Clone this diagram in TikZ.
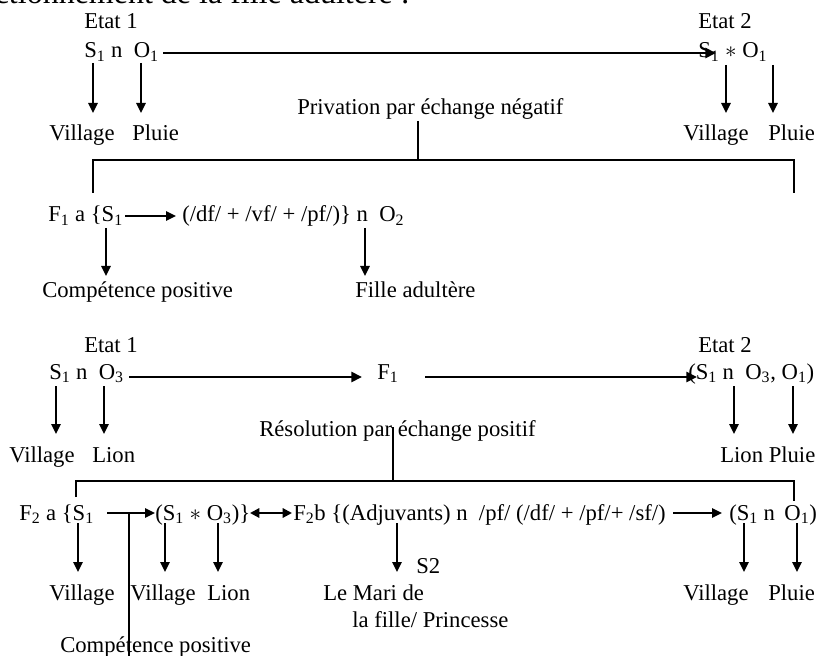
\documentclass[tikz,border=0pt]{standalone}
\usepackage{fontspec}
\setmainfont{Liberation Serif}
\usetikzlibrary{arrows.meta}
\newcommand\sbs[1]{\textsubscript{#1}}
\begin{document}
\begin{tikzpicture}[x=0.75pt,y=-0.75pt,
  txt/.style={inner sep=0pt,anchor=base west,font=\fontsize{17}{20}\selectfont},
  ttl/.style={inner sep=0pt,anchor=base east,font=\fontsize{24}{28}\selectfont},
  varr/.style={line width=1.3pt,-{Triangle[length=7.5pt,width=7pt]}},
  harr/.style={line width=2.1pt,-{Triangle[length=8pt,width=7.5pt]}},
  rarr/.style={line width=1.6pt,-{Triangle[length=7.5pt,width=7pt]}},
  darr/.style={line width=1.6pt,{Triangle[length=7pt,width=7pt]}-{Triangle[length=7pt,width=7pt]}},
  brk/.style={line width=1.1pt}]
\clip (0,0) rectangle (818,656);

% ---------- title (cut off at top) ----------
\node[ttl] (title) at (410,4) {Fonctionnement de la fille adultère :};

% ---------- first scheme ----------
\node[txt] (e1) at (84,29) {Etat 1};
\node[txt] (s1o1) at (84,58) {S\sbs{1} n~ O\sbs{1}};
\node[txt] (e2) at (698,29) {Etat 2};
\node[txt] (s1xo1) at (698,58) {S\sbs{1} $\ast$ O\sbs{1}};
\node[txt] (v1) at (49,141) {Village};
\node[txt] (p1) at (132,141) {Pluie};
\node[txt] (v2) at (683,141) {Village};
\node[txt] (p2) at (768,141) {Pluie};
\node[txt] (priv) at (297,115) {Privation par échange négatif};
\node[txt] (f1a) at (48,222) {F\sbs{1} a \{S\sbs{1}};
\node[txt] (f1b) at (182,222) {(/df/ + /vf/ + /pf/)\} n~ O\sbs{2}};
\node[txt] (comp1) at (42,297) {Compétence positive};
\node[txt] (fille) at (355,297) {Fille adultère};

\coordinate (h1s) at (163,53);  \coordinate (h1e) at (716,53);
\draw[harr] (h1s) -- (h1e);
\coordinate (d1s) at (93,63);   \coordinate (d1e) at (93,113);
\coordinate (d2s) at (141,63);  \coordinate (d2e) at (141,113);
\coordinate (d3s) at (726,65);  \coordinate (d3e) at (726,113);
\coordinate (d4s) at (773,65);  \coordinate (d4e) at (773,113);
\foreach \i in {1,2,3,4} \draw[varr] (d\i s) -- (d\i e);

\coordinate (b1m) at (418,121); \coordinate (b1mj) at (418,160);
\coordinate (b1l) at (93,193);  \coordinate (b1r) at (794,193);
\draw[brk] (b1m) -- (b1mj);
\draw[brk] (b1l) |- (b1mj) -| (b1r);

\coordinate (f1s) at (125,216); \coordinate (f1e) at (176,216);
\draw[rarr] (f1s) -- (f1e);
\coordinate (d5s) at (106,228); \coordinate (d5e) at (106,276);
\coordinate (d6s) at (365,228); \coordinate (d6e) at (365,276);
\draw[varr] (d5s) -- (d5e);
\draw[varr] (d6s) -- (d6e);

% ---------- second scheme ----------
\node[txt] (e1b) at (84,352) {Etat 1};
\node[txt] (s1o3) at (49,379) {S\sbs{1} n~ O\sbs{3}};
\node[txt] (f1) at (377,379) {F\sbs{1}};
\node[txt] (e2b) at (698,352) {Etat 2};
\node[txt] (st2) at (688,379) {(S\sbs{1} n~ O\sbs{3}, O\sbs{1})};
\node[txt] (v3) at (9,462) {Village};
\node[txt] (l3) at (92,462) {Lion};
\node[txt] (res) at (259,436) {Résolution par échange positif};
\node[txt] (lp) at (720,462) {Lion Pluie};

\coordinate (h2s) at (129,377); \coordinate (h2e) at (362,377);
\coordinate (h3s) at (425,377); \coordinate (h3e) at (697,377);
\draw[harr] (h2s) -- (h2e);
\draw[harr] (h3s) -- (h3e);
\coordinate (d7s) at (56,386);   \coordinate (d7e) at (56,434);
\coordinate (d8s) at (104,386);  \coordinate (d8e) at (104,434);
\coordinate (d9s) at (734,386);  \coordinate (d9e) at (734,434);
\coordinate (d10s) at (793,386); \coordinate (d10e) at (793,434);
\foreach \i in {7,8,9,10} \draw[varr] (d\i s) -- (d\i e);

\coordinate (b2m) at (393,427); \coordinate (b2mj) at (393,481);
\coordinate (b2l) at (76,497);  \coordinate (b2r) at (794,501);
\draw[brk] (b2m) -- (b2mj);
\draw[brk] (b2l) |- (b2mj) -| (b2r);

\node[txt] (f2a) at (19,520) {F\sbs{2} a \{S\sbs{1}};
\node[txt] (s1xo3) at (155,520) {(S\sbs{1} $\ast$ O\sbs{3})\}};
\node[txt] (f2b) at (293,520) {F\sbs{2}b \{(Adjuvants) n~ /pf/ (/df/ + /pf/+ /sf/)};
\node[txt] (s1o1b) at (729,520) {(S\sbs{1} n\ \,O\sbs{1})};

\coordinate (r1s) at (107,513); \coordinate (r1e) at (155,513);
\draw[rarr] (r1s) -- (r1e);
\coordinate (r2s) at (250,513); \coordinate (r2e) at (292,513);
\draw[darr] (r2s) -- (r2e);
\coordinate (r3s) at (673,513); \coordinate (r3e) at (722,513);
\draw[rarr] (r3s) -- (r3e);
\coordinate (cps) at (129,513); \coordinate (cpe) at (129,660);
\draw[brk] (cps) -- (cpe);

\coordinate (d11s) at (78,523);  \coordinate (d11e) at (78,572);
\coordinate (d12s) at (165,523); \coordinate (d12e) at (165,572);
\coordinate (d13s) at (218,523); \coordinate (d13e) at (218,572);
\coordinate (d14s) at (397,523); \coordinate (d14e) at (397,572);
\coordinate (d15s) at (744,523); \coordinate (d15e) at (744,572);
\coordinate (d16s) at (797,523); \coordinate (d16e) at (797,572);
\foreach \i in {11,...,16} \draw[varr] (d\i s) -- (d\i e);

\node[txt] (v4) at (49,600) {Village};
\node[txt] (v5) at (130,600) {Village};
\node[txt] (l5) at (207,600) {Lion};
\node[txt] (s2) at (416,573) {S2};
\node[txt] (mari) at (323,600) {Le Mari de};
\node[txt] (princ) at (352,627) {la fille/ Princesse};
\node[txt] (v6) at (683,600) {Village};
\node[txt] (p6) at (768,600) {Pluie};
\node[txt] (comp2) at (60,652) {Compétence positive};
\end{tikzpicture}
\end{document}
